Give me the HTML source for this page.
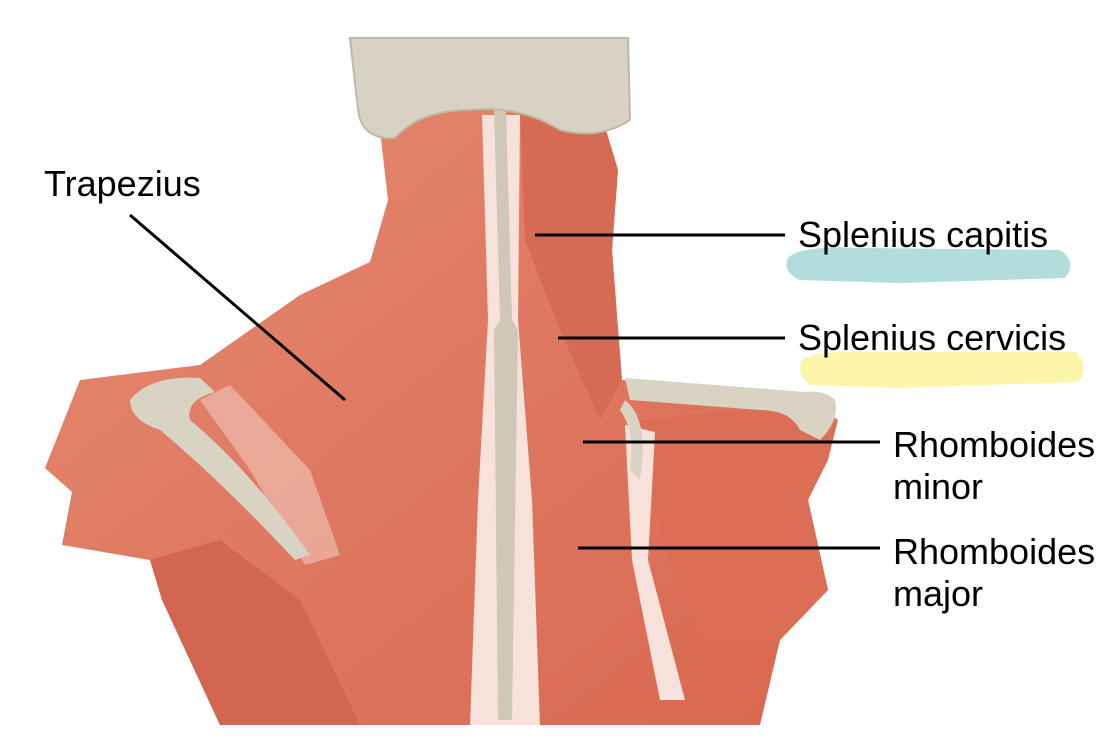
<!DOCTYPE html>
<html><head><meta charset="utf-8"><style>
html,body{margin:0;padding:0;background:#fff;}
svg{display:block}
text{font-family:"Liberation Sans",Arial,sans-serif;font-size:36px;fill:#000}
</style></head><body>
<svg width="1112" height="752" viewBox="0 0 1112 752" xmlns="http://www.w3.org/2000/svg">
<defs>
<linearGradient id="m" x1="0" y1="0" x2="1" y2="1">
<stop offset="0" stop-color="#e58a72"/><stop offset="1" stop-color="#d9674f"/>
</linearGradient>
</defs>
<path d="M788,258 Q800,245 860,248 L1060,250 Q1078,262 1065,278 L900,283 L800,280 Q782,272 788,258Z" fill="#a9d9d8" opacity="0.9"/>
<path d="M802,360 Q812,350 880,352 L1075,352 Q1092,366 1078,382 L900,388 L810,385 Q796,375 802,360Z" fill="#fdf6a4" opacity="0.95"/>
<path d="M380,130 L440,100 L600,110 L618,170 L612,250 L622,380 L800,395 L838,420 L828,460 L808,500 L828,590 L780,640 L760,725 L220,725 L162,600 L150,560 L62,545 L72,492 L45,468 L80,380 L200,365 L300,295 L370,262 L388,200 Z" fill="url(#m)"/>
<path d="M520,110 L600,110 L618,170 L612,250 L622,380 L600,420 L560,330 L525,240 Z" fill="#d66a53"/>
<path d="M150,560 L220,540 L300,600 L360,725 L220,725 L162,600Z" fill="#d26650"/>
<path d="M640,420 L800,405 L830,440 L808,500 L828,590 L780,640 L700,640 L660,540Z" fill="#dc6e56"/>
<path d="M200,400 L230,385 L310,470 L340,555 L305,565 L250,470Z" fill="#f0c7bb" opacity="0.6"/>
<path d="M482,115 L520,115 L518,320 L532,500 L540,725 L470,725 L478,500 L488,320Z" fill="#f6e2da"/>
<path d="M625,425 L655,432 L648,560 L685,700 L660,700 L632,560Z" fill="#f6e2da"/>
<path d="M494,110 L506,110 L512,320 L518,330 L512,720 L498,720 L494,330 L500,320Z" fill="#cfc8b6"/>
<path d="M130,400 Q150,375 200,378 L215,392 Q185,400 190,420 Q250,470 310,555 L295,560 Q220,480 160,430 Q130,420 130,400Z" fill="#d9d3c4"/>
<path d="M625,378 L805,392 Q825,390 835,400 Q840,420 820,440 L800,430 Q790,410 760,410 L630,400Z" fill="#d9d3c4"/>
<path d="M625,400 Q650,420 640,480 L630,470 Q635,430 620,410Z" fill="#d9d3c4"/>
<path d="M350,38 L628,38 L630,120 Q600,140 560,130 Q520,105 470,110 Q420,110 395,138 Q362,140 358,110Z" fill="#d8d2c4" stroke="#bfb8a6" stroke-width="2"/>
<g stroke="#000" stroke-width="3">
<line x1="130" y1="215" x2="345" y2="400"/>
<line x1="535" y1="235" x2="785" y2="235"/>
<line x1="558" y1="338" x2="785" y2="338"/>
<line x1="583" y1="442" x2="880" y2="442"/>
<line x1="578" y1="548" x2="880" y2="548"/>
</g>
<text x="44" y="196">Trapezius</text>
<text x="798" y="247">Splenius capitis</text>
<text x="798" y="350">Splenius cervicis</text>
<text x="893" y="457">Rhomboides</text>
<text x="893" y="499">minor</text>
<text x="893" y="564">Rhomboides</text>
<text x="893" y="606">major</text>
</svg>
</body></html>
